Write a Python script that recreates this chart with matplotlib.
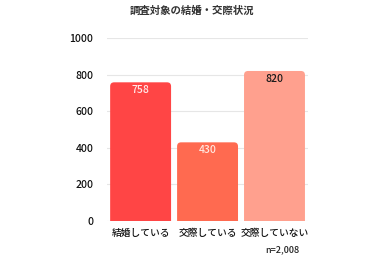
import matplotlib
matplotlib.use("Agg")
import matplotlib.pyplot as plt
from matplotlib.patches import FancyBboxPatch

plt.rcParams['font.family'] = ['Noto Sans CJK JP', 'DejaVu Sans']

title = "調査対象の結婚・交際状況"
categories = ["結婚している", "交際している", "交際していない"]
values = [758, 430, 820]
colors = ["#FF4545", "#FF6A50", "#FFA08E"]
label_colors = ["#FFE8E8", "#FFE8E0", "#1A1A1A"]
yticks = [0, 200, 400, 600, 800, 1000]
note = "n=2,008"

fig = plt.figure(figsize=(3.84, 2.57), dpi=100)
ax = fig.add_axes([0.279, 0.140, 0.523, 0.712])

bars = ax.bar(range(len(categories)), values, width=0.91, color=colors, zorder=2)
ax.set_xlim(-0.5, len(categories) - 0.5)
ax.set_ylim(0, 1000)

# replace with rounded-top bars
px_per_x = ax.bbox.width / 3.0
px_per_y = ax.bbox.height / 1000.0
r_px = 4
r_x = r_px / px_per_x
aspect = px_per_x / px_per_y
for b, c in zip(bars, colors):
    b.set_visible(False)
    x0, w, h = b.get_x(), b.get_width(), b.get_height()
    p = FancyBboxPatch((x0, -40), w, h + 40,
                       boxstyle=f"round,pad=0,rounding_size={r_x}",
                       mutation_aspect=aspect, facecolor=c, edgecolor='none',
                       zorder=2, clip_on=True)
    ax.add_patch(p)

for i, (v, lc) in enumerate(zip(values, label_colors)):
    ax.text(i, v - 14, str(v), ha='center', va='top', fontsize=7.5, color=lc,
            fontweight='medium', zorder=3)

ax.set_yticks(yticks)
ax.set_yticklabels([str(t) for t in yticks], fontsize=7.5, color='#111111', fontweight='medium')
ax.set_xticks(range(len(categories)))
ax.set_xticklabels(categories, fontsize=7, color='#111111', fontweight='medium')
ax.tick_params(axis='both', length=0, pad=5)
ax.tick_params(axis='y', pad=10)
for s in ax.spines.values():
    s.set_visible(False)
ax.yaxis.grid(True, color='#E6E6E6', linewidth=0.8, zorder=0)
ax.set_axisbelow(True)

fig.text(0.5, 0.96, title, ha='center', va='center', fontsize=7.5, fontweight='bold', color='#333333')
fig.text(0.735, 0.03, note, ha='center', va='center', fontsize=6.5, color='#222222', fontweight='medium')

fig.savefig("out.png", dpi=100)
